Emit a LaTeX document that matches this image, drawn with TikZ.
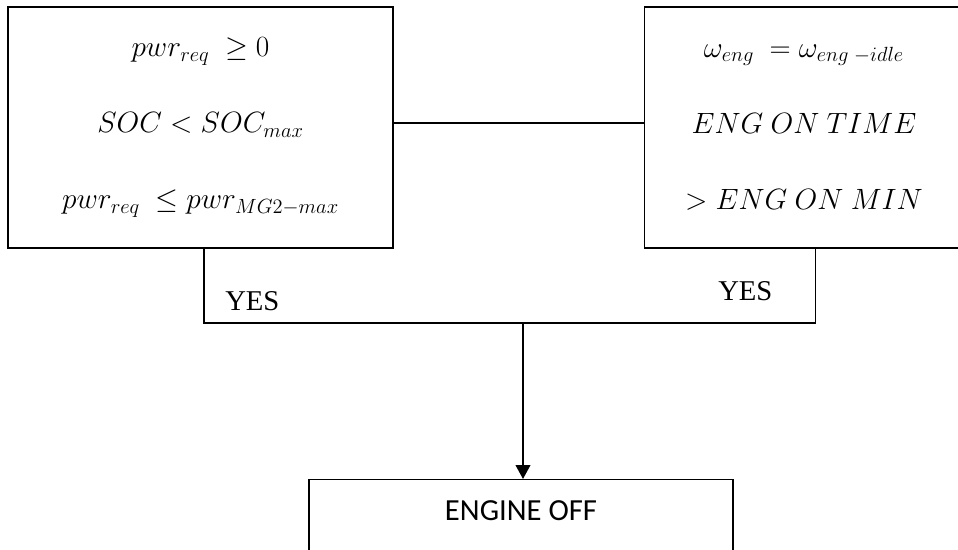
\RequirePackage{fix-cm}
\documentclass[tikz,border=0pt]{standalone}
\usepackage[no-math]{fontspec}
\setmainfont{Liberation Serif}
\newfontfamily\calfont{Carlito}
\usetikzlibrary{arrows.meta, positioning}

\begin{document}
\begin{tikzpicture}[
  x=0.75pt, y=-0.75pt,
  condbox/.style={
    draw, line width=1.1pt, minimum height=180.75pt,
    align=center, font=\fontsize{22}{57}\selectfont
  },
  offbox/.style={
    draw, line width=1.1pt, minimum width=318pt,
    inner ysep=15.75pt, text depth=40pt, anchor=north,
    font=\calfont\fontsize{23}{28}\selectfont
  },
  yeslabel/.style={inner sep=0pt, anchor=base west,
                   font=\fontsize{21.5}{26}\selectfont},
  link/.style={line width=1.1pt},
  arrow/.style={-{Triangle[length=10.5pt,width=11pt]}, line width=1.5pt}
]
\clip (0,0) rectangle (958,550);

%% ── Condition boxes ──────────────────────────────────────────
\node[condbox, minimum width=288.75pt] (lbox) at (200.5,127.5)
      {$pwr_{req}\ \geq 0$\\
       $SOC < SOC_{max}$\\
       $pwr_{req}\ \leq pwr_{MG2-max}$};
\node[condbox, minimum width=239.25pt, right=187.5pt of lbox] (rbox)
      {$\omega_{eng}\ = \omega_{eng\;-idle}$\\
       $ENG\ ON\ TIME$\\
       $> ENG\ ON\ MIN$};

%% ── Result box ───────────────────────────────────────────────
\node[offbox] (off) at (521,479) {ENGINE OFF};

%% ── Connectors ───────────────────────────────────────────────
\draw[link] ([yshift=3.4pt]lbox.east) -- ([yshift=3.4pt]rbox.west);

\coordinate (join) at (523,323);
\draw[link] ([xshift=2.6pt]lbox.south) |- (join)
            -| ([xshift=8.6pt]rbox.south);
\node[yeslabel] (yesl) at (225,310) {YES};
\node[yeslabel] (yesr) at (718,300) {YES};

\draw[arrow] (join) -- (join |- off.north);

\end{tikzpicture}
\end{document}
